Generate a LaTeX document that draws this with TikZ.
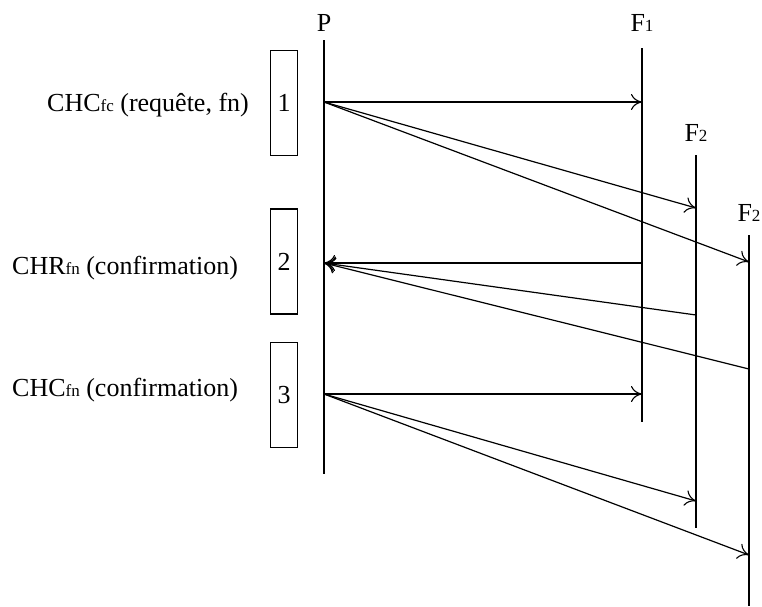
\documentclass[tikz,border=0pt]{standalone}
\usepackage{fontspec}
\setmainfont{Liberation Serif}
\usetikzlibrary{arrows.meta}
\begin{document}
\begin{tikzpicture}[x=1pt,y=-1pt,
  lifeline/.style={line width=1.2pt},
  msg/.style={line width=1.2pt,-{To[length=11pt,width=16pt,line width=1.1pt]}},
  stepbox/.style={draw,line width=1.2pt,minimum width=27pt,minimum height=105pt,inner sep=0pt,font=\fontsize{26}{29}\selectfont},
  head/.style={font=\fontsize{26}{29}\selectfont,inner sep=0pt},
  lbl/.style={font=\fontsize{26}{29}\selectfont,inner sep=0pt,anchor=base west}]
\useasboundingbox (0,0) rectangle (762,606);
\newcommand{\sbx}[1]{{\fontsize{17}{19}\selectfont #1}}
% lifelines
\coordinate (Pt) at (324,40);  \coordinate (Pb) at (324,474);
\coordinate (At) at (642,48);  \coordinate (Ab) at (642,422);
\coordinate (Bt) at (696,155); \coordinate (Bb) at (696,528);
\coordinate (Ct) at (749,235); \coordinate (Cb) at (749,606);
\draw[lifeline] (Pt) -- (Pb);
\draw[lifeline] (At) -- (Ab);
\draw[lifeline] (Bt) -- (Bb);
\draw[lifeline] (Ct) -- (Cb);
\node[head] (hP) at (324,23) {P};
\node[head] (hA) at (642,23) {F\sbx{1}};
\node[head] (hB) at (696,133) {F\sbx{2}};
\node[head] (hC) at (749,213) {F\sbx{2}};
% boxes
\node[stepbox] (b1) at (284,103) {1};
\node[stepbox] (b2) at (284,261.5) {2};
\node[stepbox] (b3) at (284,395) {3};
% labels
\node[lbl] (l1) at (47,111) {CHC\sbx{fc} (requête, fn)};
\node[lbl] (l2) at (12,274) {CHR\sbx{fn} (confirmation)};
\node[lbl] (l3) at (12,396) {CHC\sbx{fn} (confirmation)};
% message points
\coordinate (p1) at (324,102);
\coordinate (a1) at (642,102);
\coordinate (b1e) at (696,208);
\coordinate (c1e) at (749,262);
\coordinate (p2) at (324,263);
\coordinate (a2) at (642,263);
\coordinate (b2s) at (696,315);
\coordinate (c2s) at (749,369);
\coordinate (p3) at (324,394);
\coordinate (a3) at (642,394);
\coordinate (b3e) at (696,501);
\coordinate (c3e) at (749,555);
% messages
\draw[msg] (p1) -- (a1);
\draw[msg] (p1) -- (b1e);
\draw[msg] (p1) -- (c1e);
\draw[msg] (a2) -- (p2);
\draw[msg] (b2s) -- (p2);
\draw[msg] (c2s) -- (p2);
\draw[msg] (p3) -- (a3);
\draw[msg] (p3) -- (b3e);
\draw[msg] (p3) -- (c3e);
\end{tikzpicture}
\end{document}
